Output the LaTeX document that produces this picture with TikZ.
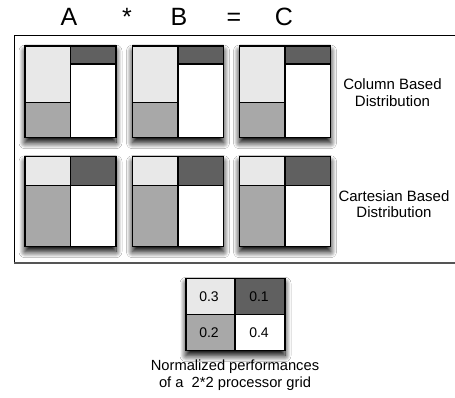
\documentclass[tikz,border=0pt]{standalone}
\usepackage{fontspec}
\setmainfont{Liberation Sans}
\usetikzlibrary{shadows.blur}
\definecolor{cLight}{HTML}{E8E8E8}
\definecolor{cMid}{HTML}{A8A8A8}
\definecolor{cDark}{HTML}{606060}
\definecolor{cFrame}{HTML}{555555}
\begin{document}
\begin{tikzpicture}[x=1pt,y=-1pt,
  gridline/.style={draw=black,line width=1.1pt},
  shadowbox/.style={fill=white,blur shadow={shadow xshift=0pt,shadow yshift=-5pt,shadow blur radius=6pt,shadow opacity=100,shadow blur steps=12}},
  bigtxt/.style={font=\fontsize{25}{30}\selectfont,anchor=base,inner sep=0pt},
  lbl/.style={font=\fontsize{15}{16.7}\selectfont,align=center,inner sep=0pt},
  num/.style={font=\fontsize{14}{16}\selectfont,inner sep=0pt}]
\useasboundingbox (0,0) rectangle (455,398);
\fill[white] (0,0) rectangle (455,398);
% title
\node[bigtxt] (tA) at (69,26) {A};
\node[bigtxt] (tS) at (127,26) {*};
\node[bigtxt] (tB) at (179,26) {B};
\node[bigtxt] (tE) at (234,26) {=};
\node[bigtxt] (tC) at (284,26) {C};
% frame
\draw[black,line width=0.9pt] (458,35) -- (14,35) -- (14,262.7);
\draw[cFrame,line width=2pt] (14,262.7) -- (458,262.7);
% column based row
\foreach \x in {25,132.5,239.5} {
  \path[shadowbox] (\x,46) rectangle ++(91,91.7);
  \fill[cLight] (\x,46) rectangle (\x+45.5,102.7);
  \fill[cMid] (\x,102.7) rectangle (\x+45.5,137.7);
  \fill[cDark] (\x+45.5,46) rectangle (\x+91,64);
  \draw[gridline] (\x,102.7) -- (\x+45.5,102.7);
  \draw[gridline] (\x+45.5,64) -- (\x+91,64);
  \draw[gridline] (\x+45.5,46) -- (\x+45.5,137.7);
  \draw[gridline] (\x,46) rectangle (\x+91,137.7);
}
% cartesian row
\foreach \x in {25,132.5,239.5} {
  \path[shadowbox] (\x,156.7) rectangle ++(91,90);
  \fill[cLight] (\x,156.7) rectangle (\x+45.5,185.7);
  \fill[cMid] (\x,185.7) rectangle (\x+45.5,246.7);
  \fill[cDark] (\x+45.5,156.7) rectangle (\x+91,185.7);
  \draw[gridline] (\x,185.7) -- (\x+91,185.7);
  \draw[gridline] (\x+45.5,156.7) -- (\x+45.5,246.7);
  \draw[gridline] (\x,156.7) rectangle (\x+91,246.7);
}
\node[lbl] (colLbl) at (392.5,92.5) {Column Based\\Distribution};
\node[lbl] (cartLbl) at (394,204) {Cartesian Based\\Distribution};
% legend
\path[shadowbox] (186,278.3) rectangle (285,350.7);
\fill[cLight] (186,278.3) rectangle (235,314.3);
\fill[cDark] (235,278.3) rectangle (285,314.3);
\fill[cMid] (186,314.3) rectangle (235,350.7);
\draw[gridline] (186,314.3) -- (285,314.3);
\draw[gridline] (235,278.3) -- (235,350.7);
\draw[gridline] (186,278.3) rectangle (285,350.7);
\node[num] (n3) at (209,297) {0.3};
\node[num] (n1) at (259,297) {0.1};
\node[num] (n2) at (209,333) {0.2};
\node[num] (n4) at (259,333) {0.4};
\node[font=\fontsize{14.7}{16.7}\selectfont,align=center,inner sep=0pt] (cap) at (235,375) {Normalized performances\\of a \ 2*2 processor grid};
\end{tikzpicture}
\end{document}
